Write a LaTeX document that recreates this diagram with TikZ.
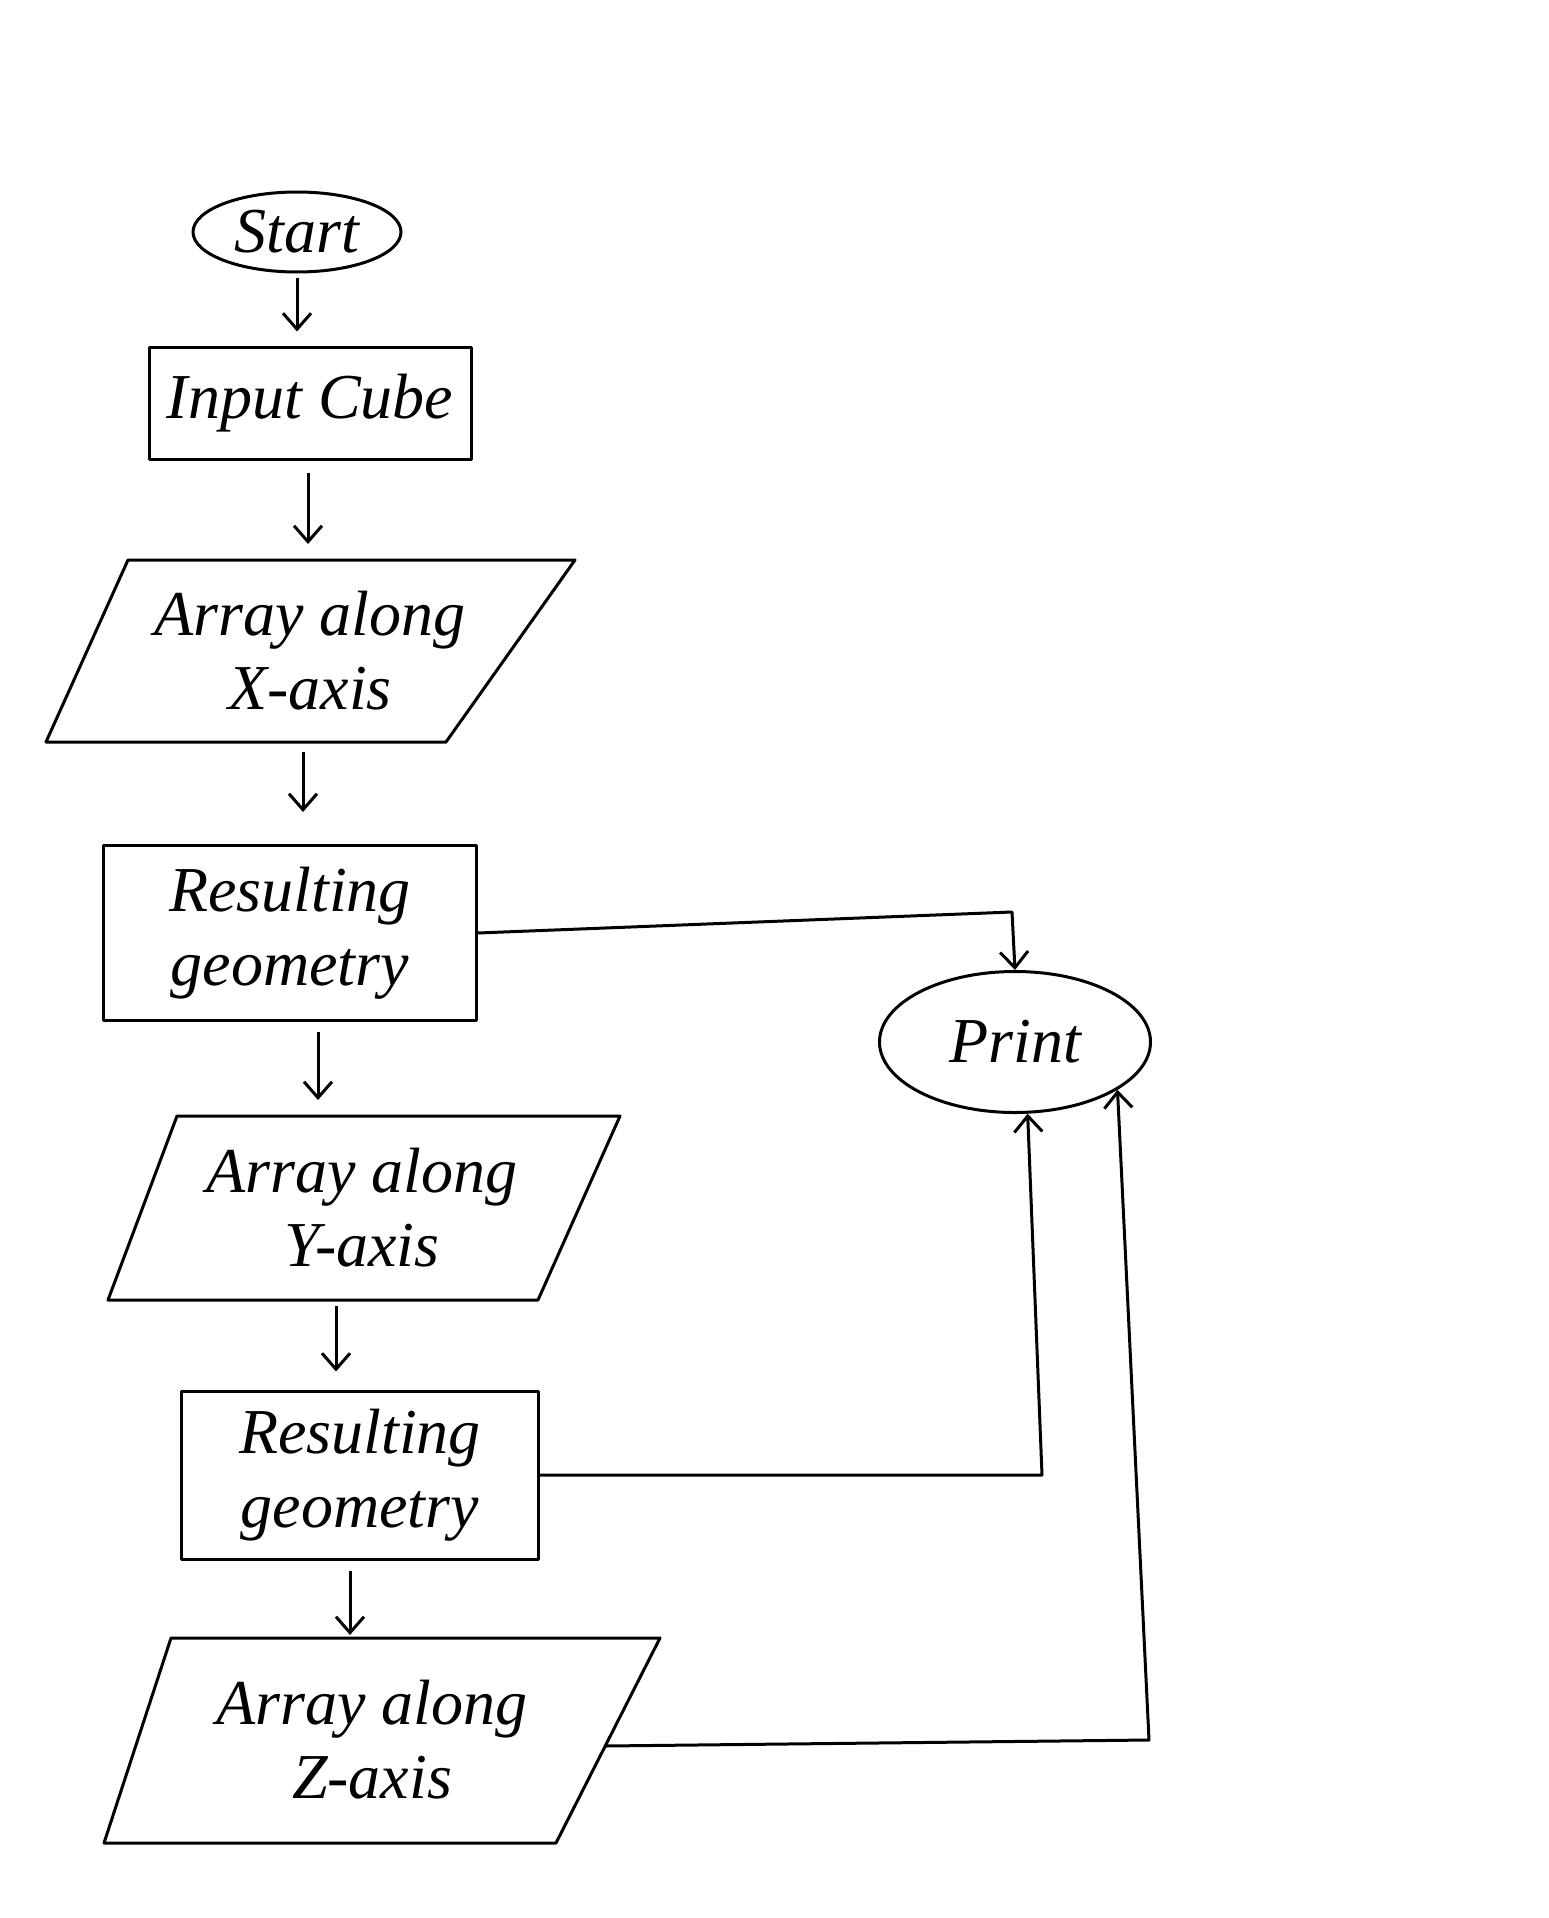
\documentclass[tikz,border=0pt]{standalone}
\usepackage{fontspec}
\setmainfont{Liberation Serif}
\usetikzlibrary{arrows.meta,shapes.geometric}
\begin{document}
\begin{tikzpicture}[x=1pt,y=-1pt,line width=3pt,line join=round,
  arr/.style={-{Straight Barb[length=16pt,width=28pt]}},
  lbl/.style={font=\fontsize{64}{74}\selectfont\itshape,align=center,inner sep=0pt},
  rbox/.style={draw,inner sep=0pt},
  oval/.style={draw,ellipse,inner sep=0pt},
  para/.style={draw}]
\path[use as bounding box,fill=white] (0,0) rectangle (1548,1918);

% Start
\node[oval,minimum width=208pt,minimum height=80pt] (st) at (297,232) {};
\node[lbl] (stt) at (st) {Start};

% Input Cube
\node[rbox,minimum width=322pt,minimum height=112pt] (r1) at (310,403) {};
\node[lbl] (r1t) at (r1) {Input Cube};

% Parallelogram 1
\coordinate (p1tl) at (128,560); \coordinate (p1tr) at (575,560);
\coordinate (p1br) at (446,742); \coordinate (p1bl) at (46,742);
\draw[para] (p1tl) -- (p1tr) -- (p1br) -- (p1bl) -- cycle;
\coordinate (p1t) at (308,560); \coordinate (p1b) at (303,742);
\node[lbl] (p1) at (310,651) {Array along\\X-axis};

% Resulting geometry 1
\node[rbox,minimum width=373pt,minimum height=175pt] (r2) at (290,933) {};
\node[lbl] (r2t) at (r2) {Resulting\\geometry};

% Parallelogram 2
\coordinate (p2tl) at (177,1116); \coordinate (p2tr) at (620,1116);
\coordinate (p2br) at (538,1300); \coordinate (p2bl) at (108,1300);
\draw[para] (p2tl) -- (p2tr) -- (p2br) -- (p2bl) -- cycle;
\coordinate (p2t) at (318,1116); \coordinate (p2b) at (336,1300);
\node[lbl] (p2) at (362,1208) {Array along\\Y-axis};

% Resulting geometry 2
\node[rbox,minimum width=357pt,minimum height=168pt] (r3) at (360,1475) {};
\node[lbl] (r3t) at (r3) {Resulting\\geometry};

% Parallelogram 3
\coordinate (p3tl) at (171,1638); \coordinate (p3tr) at (660,1638);
\coordinate (p3br) at (556,1843); \coordinate (p3bl) at (104,1843);
\draw[para] (p3tl) -- (p3tr) -- (p3br) -- (p3bl) -- cycle;
\coordinate (p3t) at (350,1638); \coordinate (p3r) at (605,1746);
\node[lbl] (p3) at (372,1740) {Array along\\Z-axis};

% Print
\node[oval,minimum width=271pt,minimum height=141pt] (pr) at (1015,1042) {};
\node[lbl] (prt) at (pr) {Print};

% vertical flow arrows
\draw[arr,shorten <=4pt,shorten >=14pt] (st.south) -- (st.south |- r1.north);
\draw[arr,shorten <=12pt,shorten >=16pt] (r1.south -| p1t) -- (p1t);
\draw[arr,shorten <=10pt,shorten >=32pt] (p1b) -- (p1b |- r2.north);
\draw[arr,shorten <=10pt,shorten >=16pt] (r2.south -| p2t) -- (p2t);
\draw[arr,shorten <=6pt,shorten >=18pt] (p2b) -- (p2b |- r3.north);
\draw[arr,shorten <=10pt,shorten >=3pt] (r3.south -| p3t) -- (p3t);

% connectors to Print
\coordinate (k1) at (1012,912);
\coordinate (k2) at (1042,1475);
\coordinate (k3) at (1149,1740);
\draw[arr] (r2.east) -- (k1) -- (pr.north);
\draw[arr] (r3.east) -- (k2) -- (pr.-80);
\draw[arr] (p3r) -- (k3) -- (pr.-25);
\end{tikzpicture}
\end{document}
